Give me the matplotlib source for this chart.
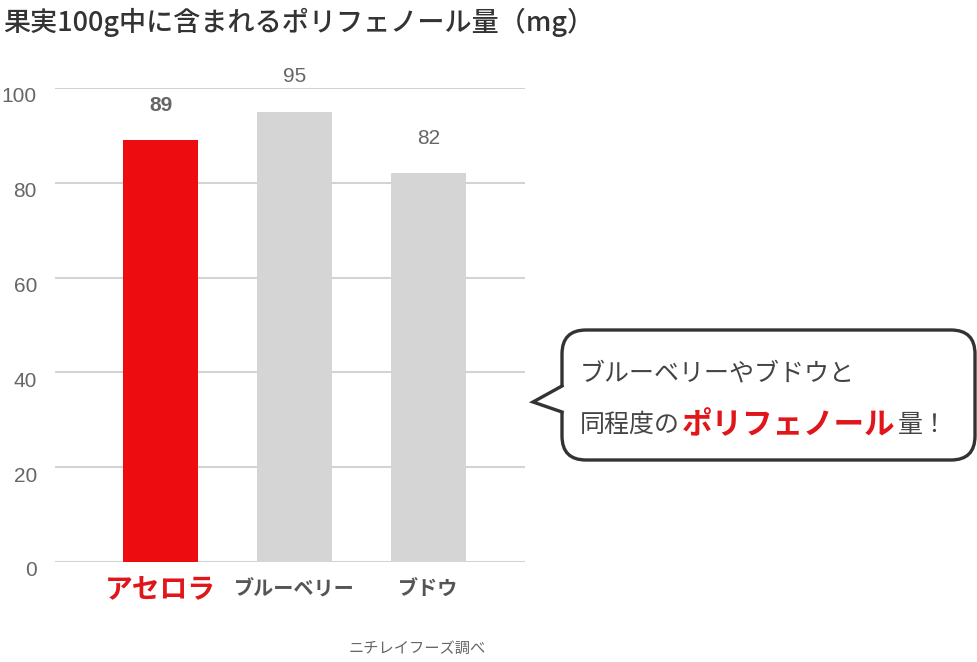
#!/usr/bin/env python3

import matplotlib
matplotlib.use("Agg")
import matplotlib.pyplot as plt
import matplotlib.transforms as mtransforms
from matplotlib.patches import FancyBboxPatch, Polygon
from matplotlib.lines import Line2D

# Data
fruits = ["アセロラ", "ブルーベリー", "ブドウ"]
polyphenol_mg = [89, 95, 82]
yticks = [0, 20, 40, 60, 80, 100]

title = "果実100g中に含まれるポリフェノール量（mg）"
source = "ニチレイフーズ調べ"
bubble_line1 = "ブルーベリーやブドウと"
bubble_line2 = ["同程度の", "ポリフェノール", "量！"]

RED = "#ED0C10"
GRAY_BAR = "#D5D5D5"
GRID = "#D3D3D3"
TXT = "#666666"

plt.rcParams['font.family'] = ['Liberation Sans', 'Noto Sans CJK JP', 'DejaVu Sans']
JP = ['Noto Sans CJK JP', 'DejaVu Sans']

W, H = 978, 662
fig = plt.figure(figsize=(W / 100, H / 100), dpi=100)

# pixel coords (origin top-left) -> figure
pix = mtransforms.Affine2D().scale(1 / 100, -1 / 100).translate(0, H / 100) + fig.dpi_scale_trans

ax = fig.add_axes([55 / W, 1 - 562 / H, (525 - 55) / W, (562 - 88) / H])
x = list(range(len(fruits)))
colors = [RED if i == 0 else GRAY_BAR for i in x]
ax.bar(x, polyphenol_mg, width=0.56, color=colors, zorder=3)
ax.set_xlim(-0.79, 2.72)
ax.set_ylim(0, 100)
ax.set_yticks(yticks)
ax.yaxis.grid(True, color=GRID, linewidth=1.5, zorder=0)
ax.set_axisbelow(True)
for s in ax.spines.values():
    s.set_visible(False)
ax.tick_params(axis='y', length=0, pad=13, labelsize=15, labelcolor=TXT)
ax.tick_params(axis='x', length=0, pad=10)
for lab in ax.get_yticklabels():
    lab.set_transform(lab.get_transform() + mtransforms.ScaledTranslation(0, -7 / 100, fig.dpi_scale_trans))

ax.set_xticks(x)
ax.set_xticklabels(fruits)
for i, lab in enumerate(ax.get_xticklabels()):
    lab.set_family(JP)
    lab.set_fontweight('bold')
    if i == 0:
        lab.set_fontsize(20)
        lab.set_color("#E0161B")
    else:
        lab.set_fontsize(14.5)
        lab.set_color("#555555")
        lab.set_transform(lab.get_transform() + mtransforms.ScaledTranslation(0, -3 / 100, fig.dpi_scale_trans))

# value labels
for i, v in enumerate(polyphenol_mg):
    ax.annotate(str(v), (i, v), xytext=(0, 25), textcoords='offset points',
                ha='center', va='center', fontsize=15, color=TXT,
                fontweight='bold' if i == 0 else 'normal')

# title and source
fig.text(3, 22, title, transform=pix, family=JP, fontsize=19.5, fontweight='medium',
         color="#333333", ha='left', va='center')
fig.text(417, 648, source, transform=pix, family=JP, fontsize=11, color=TXT,
         ha='center', va='center')

# speech bubble
box = FancyBboxPatch((562, 330), 975 - 562, 460 - 330,
                     boxstyle="round,pad=0,rounding_size=24",
                     transform=pix, facecolor='white', edgecolor='#333333',
                     linewidth=2.4, zorder=5)
fig.add_artist(box)
fig.add_artist(Polygon([(533, 402), (562, 386), (566, 386), (566, 412), (562, 412)],
                       closed=True, transform=pix, facecolor='white',
                       edgecolor='none', zorder=6))
fig.add_artist(Line2D([562, 533, 562], [386, 402, 412], transform=pix,
                      color='#333333', linewidth=2.4, solid_joinstyle='miter', zorder=7))

fig.text(580, 373, bubble_line1, transform=pix, family=JP, fontsize=18,
         color="#444444", ha='left', va='center', zorder=8)

fig.canvas.draw()
renderer = fig.canvas.get_renderer()
xpos = 580
styles = [dict(fontsize=18, color="#444444"),
          dict(fontsize=22, color="#E0161B", fontweight='bold'),
          dict(fontsize=18, color="#444444")]
for part, st in zip(bubble_line2, styles):
    t = fig.text(xpos, 425, part, transform=pix, family=JP, ha='left', va='center',
                 zorder=8, **st)
    bb = t.get_window_extent(renderer)
    xpos += bb.width + 2

fig.savefig("out.png", dpi=100)
